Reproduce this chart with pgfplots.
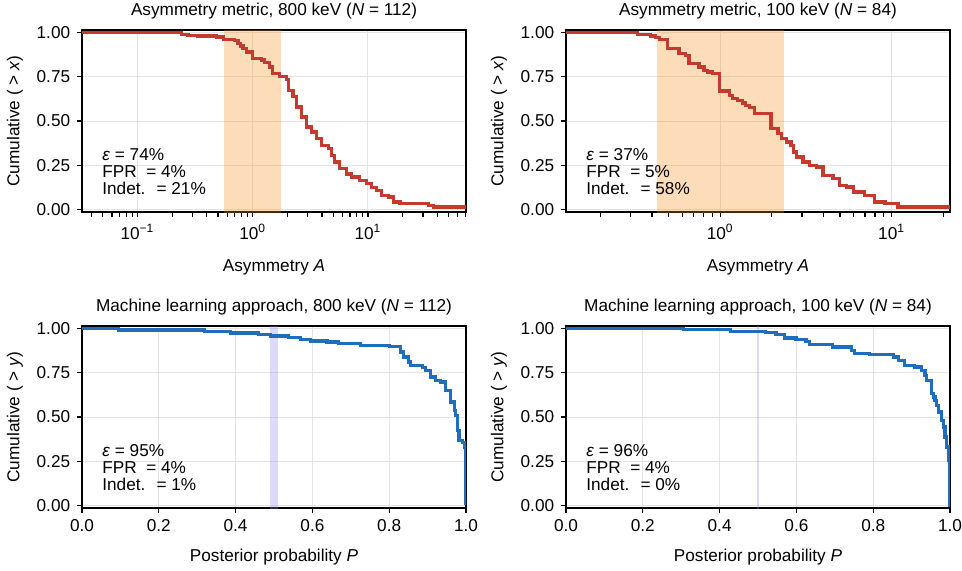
\documentclass[border=0pt]{standalone}
\usepackage{pgfplots}
\pgfplotsset{compat=1.18}
\usepackage{fontspec}
\setmainfont{Liberation Sans}
\definecolor{cred}{RGB}{196,58,47}
\definecolor{cblue}{RGB}{31,110,190}
\definecolor{shorange}{RGB}{248,142,22}
\definecolor{shviolet}{RGB}{138,132,238}
\definecolor{gridc}{RGB}{228,228,228}
\tikzset{note/.style={anchor=south west, align=left, inner sep=0pt, font=\fontsize{8.6}{8.3}\selectfont}}
\pgfplotsset{
  every axis title shift=0pt,
  base/.style={
    scale only axis, width=192pt, height=91pt,
    ymin=-0.015, ymax=1.015,
    ytick={0,0.25,0.5,0.75,1},
    /pgf/number format/assume math mode=true,
    yticklabel style={/pgf/number format/.cd, fixed, fixed zerofill, precision=2},
    tick align=outside, xtick pos=left, ytick pos=left,
    major tick length=2.4pt, minor tick length=2.4pt,
    every tick/.style={black, line width=0.6pt},
    axis line style={line width=1pt},
    grid=major, major grid style={gridc, line width=0.5pt},
    title style={at={(axis description cs:0.5,1)}, anchor=base, yshift=7.5pt},
    ylabel style={at={(axis description cs:-0.1745,0.5)}, anchor=center},
    clip=true,
  },
  logx/.style={base,
    xtick={0.1,1,10},
    xticklabels={10\textsuperscript{−1},10\textsuperscript{0},10\textsuperscript{1}},
    xlabel={Asymmetry \textit{A}},
    ylabel={Cumulative ( > \textit{x})},
    xlabel style={at={(axis description cs:0.5,0)}, anchor=base, yshift=-29.5pt},
  },
  linx/.style={base, xmin=0, xmax=1,
    xtick={0,0.2,0.4,0.6,0.8,1},
    xticklabel style={/pgf/number format/.cd, fixed, fixed zerofill, precision=1},
    xlabel={Posterior probability \textit{P}},
    ylabel={Cumulative ( > \textit{y})},
    xlabel style={at={(axis description cs:0.5,0)}, anchor=base, yshift=-26.5pt},
  },
}
\begin{document}
\begin{tikzpicture}[font=\fontsize{8.6}{10.2}\selectfont]
\path[use as bounding box] (0,0) rectangle (481pt,285pt);
% top-left
\begin{semilogxaxis}[logx, at={(41pt,179pt)}, anchor=south west,
  xmin=0.033, xmax=71,
  minor xtick={0.04,0.05,0.06,0.07,0.08,0.09,0.2,0.3,0.4,0.5,0.6,0.7,0.8,0.9,2,3,4,5,6,7,8,9,20,30,40,50,60,70},
  title={Asymmetry metric, 800 keV (\textit{N} = 112)}]
\addplot[draw=none, fill=shorange, fill opacity=0.3] coordinates {(0.56,-0.1) (0.56,1.1) (1.75,1.1) (1.75,-0.1)} -- cycle;
\addplot[const plot, cred, line width=1.6pt] coordinates {
(0.033,1.000) (0.24,0.991) (0.274,0.985) (0.335,0.981) (0.483,0.975) (0.56,0.962)
(0.70,0.955) (0.745,0.94) (0.78,0.925) (0.824,0.91) (0.88,0.89) (0.99,0.853)
(1.19,0.845) (1.27,0.830) (1.41,0.806) (1.48,0.77) (1.72,0.753) (1.96,0.734)
(2.03,0.674) (2.24,0.64) (2.40,0.579) (2.65,0.523) (2.93,0.466) (3.24,0.438)
(3.58,0.40) (3.96,0.362) (4.52,0.343) (4.83,0.306) (5.16,0.268) (5.71,0.23)
(6.53,0.20) (7.21,0.183) (8.51,0.164) (9.75,0.145) (10.8,0.125) (11.9,0.107)
(13.2,0.08) (15.0,0.07) (16.6,0.042) (19.0,0.032) (33.5,0.023) (37.0,0.013) (72,0.013)};
\node[note] at (rel axis cs:0.052,0.095)
  {\textit{ε} = 74\%\\FPR \ = 4\%\\Indet. \ = 21\%};
\end{semilogxaxis}
% top-right
\begin{semilogxaxis}[logx, at={(283pt,179pt)}, anchor=south west,
  xmin=0.126, xmax=21.9,
  minor xtick={0.2,0.3,0.4,0.5,0.6,0.7,0.8,0.9,2,3,4,5,6,7,8,9,20},
  title={Asymmetry metric, 100 keV (\textit{N} = 84)}]
\addplot[draw=none, fill=shorange, fill opacity=0.3] coordinates {(0.43,-0.1) (0.43,1.1) (2.35,1.1) (2.35,-0.1)} -- cycle;
\addplot[const plot, cred, line width=1.6pt] coordinates {
(0.126,1.0) (0.328,0.991) (0.393,0.981) (0.42,0.972) (0.44,0.960) (0.492,0.909)
(0.575,0.881) (0.63,0.872) (0.658,0.825) (0.753,0.806) (0.805,0.787) (0.843,0.777)
(0.902,0.768) (0.987,0.670) (1.13,0.645) (1.18,0.626) (1.26,0.617) (1.35,0.602)
(1.41,0.589) (1.48,0.575) (1.58,0.542) (1.98,0.457) (2.17,0.428) (2.27,0.40)
(2.43,0.381) (2.59,0.362) (2.68,0.325) (2.78,0.296) (3.04,0.268) (3.32,0.249)
(3.64,0.240) (3.98,0.192) (4.55,0.174) (4.98,0.136) (5.45,0.126) (5.97,0.098)
(6.98,0.079) (7.98,0.042) (9.14,0.032) (10.9,0.013) (22,0.013)};
\node[note] at (rel axis cs:0.052,0.095)
  {\textit{ε} = 37\%\\FPR \ = 5\%\\Indet. \ = 58\%};
\end{semilogxaxis}
% bottom-left
\begin{axis}[linx, at={(41pt,31pt)}, anchor=south west,
  title={Machine learning approach, 800 keV (\textit{N} = 112)}]
\addplot[draw=none, fill=shviolet, fill opacity=0.3] coordinates {(0.49,-0.1) (0.49,1.1) (0.51,1.1) (0.51,-0.1)} -- cycle;
\addplot[const plot, cblue, line width=1.6pt] coordinates {
(0,1.0) (0.095,0.992) (0.32,0.985) (0.386,0.975) (0.46,0.966) (0.49,0.958)
(0.538,0.949) (0.569,0.94) (0.595,0.930) (0.638,0.925) (0.669,0.915) (0.725,0.906)
(0.80,0.898) (0.83,0.868) (0.838,0.84) (0.851,0.811) (0.856,0.792) (0.887,0.78)
(0.895,0.764) (0.908,0.726) (0.921,0.708) (0.934,0.698) (0.947,0.651) (0.96,0.585)
(0.969,0.538) (0.973,0.509) (0.977,0.425) (0.982,0.368) (0.99,0.358) (0.997,0.33)
(0.998,0.255) (1.0,0)};
\node[note] at (rel axis cs:0.052,0.095)
  {\textit{ε} = 95\%\\FPR \ = 4\%\\Indet. \ = 1\%};
\end{axis}
% bottom-right
\begin{axis}[linx, at={(283pt,31pt)}, anchor=south west,
  title={Machine learning approach, 100 keV (\textit{N} = 84)}]
\addplot[draw=none, fill=shviolet, fill opacity=0.3] coordinates {(0.4985,-0.1) (0.4985,1.1) (0.5015,1.1) (0.5015,-0.1)} -- cycle;
\addplot[const plot, cblue, line width=1.6pt] coordinates {
(0,1.0) (0.307,0.994) (0.429,0.985) (0.52,0.977) (0.547,0.966) (0.568,0.947)
(0.599,0.938) (0.625,0.928) (0.634,0.909) (0.695,0.896) (0.743,0.877) (0.752,0.858)
(0.791,0.853) (0.852,0.84) (0.865,0.821) (0.882,0.792) (0.908,0.783) (0.926,0.764)
(0.935,0.736) (0.939,0.708) (0.952,0.632) (0.956,0.613) (0.961,0.594) (0.965,0.566)
(0.969,0.528) (0.978,0.481) (0.983,0.443) (0.987,0.387) (0.991,0.33) (0.996,0.255)
(0.999,0) (1.0,0)};
\node[note] at (rel axis cs:0.052,0.095)
  {\textit{ε} = 96\%\\FPR \ = 4\%\\Indet. \ = 0\%};
\end{axis}
\end{tikzpicture}
\end{document}
